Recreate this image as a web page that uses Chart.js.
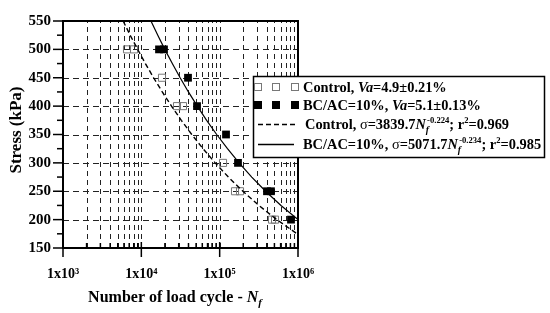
<!DOCTYPE html>
<html><head><meta charset="utf-8">
<script src="https://cdn.jsdelivr.net/npm/chart.js@4/dist/chart.umd.min.js"></script>
<style>html,body{margin:0;padding:0;background:#fff;}canvas{display:block;}</style>
</head><body>
<canvas id="c" width="550" height="313"></canvas>
<script>
// ---- data ----
const xTickValues = [1e3, 1e4, 1e5, 1e6];
const xTickLabels = ['1x10³', '1x10⁴', '1x10⁵', '1x10⁶'];
const yTickValues = [150, 200, 250, 300, 350, 400, 450, 500, 550];

const controlN      = [6560, 8060, 18360, 28530, 34000, 110400, 157000, 181900, 465700, 509000];
const controlStress = [500, 500, 450, 400, 400, 300, 250, 250, 200, 200];
const bcN           = [16820, 19460, 39430, 51400, 120500, 171400, 401900, 451900, 814000];
const bcStress      = [500, 500, 450, 400, 350, 300, 250, 250, 200];

const controlFitN      = [5860, 7200, 8975, 11270, 14340, 18510, 24270, 32380, 44030, 61320, 87640, 129200, 197800, 316800, 535600, 1000000];
const controlFitStress = [550, 525, 500, 475, 450, 425, 400, 375, 350, 325, 300, 275, 250, 225, 200, 173.9];
const bcFitN      = [13270, 16220, 19940, 24860, 31290, 39920, 51800, 68210, 91600, 125800, 177000, 256800, 385800, 606100, 1000000];
const bcFitStress = [550, 525, 500, 475, 450, 425, 400, 375, 350, 325, 300, 275, 250, 225, 200.1];

const legendLabels = ['Control', 'BC/AC=10%'];

const FONT = '"Liberation Serif", "Times New Roman", serif';
const zip = (xs, ys) => xs.map((x, i) => ({x: x, y: ys[i]}));

function richText(ctx, x, y, segs, size) {
  let cx = x;
  for (const s of segs) {
    let sz = size, dy = 0;
    if (s.sub) { sz = size * 0.68; dy = 4; }
    if (s.sup) { sz = size * 0.6; dy = -6; }
    const w = s.normal ? 'normal' : 'bold';
    ctx.font = (s.it ? 'italic ' : '') + w + ' ' + sz + 'px ' + FONT;
    ctx.fillText(s.t, cx, y + dy);
    cx += ctx.measureText(s.t).width + (s.kern || 0);
  }
  return cx - x;
}
function richWidth(ctx, segs, size) {
  let w = 0;
  for (const s of segs) {
    let sz = size;
    if (s.sub) sz = size * 0.68;
    if (s.sup) sz = size * 0.6;
    ctx.font = (s.it ? 'italic ' : '') + (s.normal ? 'normal' : 'bold') + ' ' + sz + 'px ' + FONT;
    w += ctx.measureText(s.t).width + (s.kern || 0);
  }
  return w;
}

const decorPlugin = {
  id: 'decor',
  beforeDatasetsDraw(chart) {
    const {ctx, chartArea: a, scales: {x, y}} = chart;
    ctx.save();
    ctx.strokeStyle = '#222';
    ctx.lineWidth = 1;
    ctx.setLineDash([5, 4]);
    for (let e = 3; e <= 5; e++) {
      for (let m = 1; m <= 9; m++) {
        const v = m * Math.pow(10, e);
        if (v <= 1e3) continue;
        const px = Math.round(x.getPixelForValue(v)) + 0.5;
        ctx.beginPath(); ctx.moveTo(px, a.bottom); ctx.lineTo(px, a.top); ctx.stroke();
      }
    }
    ctx.setLineDash([6, 4]);
    for (const v of yTickValues) {
      if (v <= 150 || v >= 550) continue;
      const py = Math.round(y.getPixelForValue(v)) + 0.5;
      ctx.beginPath(); ctx.moveTo(a.left, py); ctx.lineTo(a.right, py); ctx.stroke();
    }
    ctx.restore();
  },
  afterDatasetsDraw(chart) {
    const {ctx, chartArea: a, scales: {x, y}} = chart;
    ctx.save();
    ctx.setLineDash([]);
    ctx.strokeStyle = '#000';
    ctx.lineWidth = 1.5;
    for (let v = 150; v <= 550; v += 25) {
      const py = y.getPixelForValue(v);
      const len = (v % 50 === 0) ? 10 : 6;
      ctx.beginPath(); ctx.moveTo(a.left - len, py); ctx.lineTo(a.left, py); ctx.stroke();
    }
    for (let e = 3; e <= 6; e++) {
      for (let m = 1; m <= 9; m++) {
        const v = m * Math.pow(10, e);
        if (v > 1e6) break;
        const px = x.getPixelForValue(v);
        ctx.beginPath();
        if (m === 1) { ctx.moveTo(px, a.bottom + 9); ctx.lineTo(px, a.bottom - 6); }
        else { ctx.moveTo(px, a.bottom); ctx.lineTo(px, a.bottom - 5); }
        ctx.stroke();
      }
    }
    ctx.lineWidth = 2;
    ctx.strokeRect(a.left, a.top, a.right - a.left, a.bottom - a.top);
    ctx.restore();
  },
  afterDraw(chart) {
    const {ctx} = chart;
    ctx.save();
    ctx.fillStyle = '#000';
    ctx.textBaseline = 'alphabetic';
    ctx.save();
    ctx.translate(21, 130);
    ctx.rotate(-Math.PI / 2);
    ctx.font = 'bold 17px ' + FONT;
    ctx.textAlign = 'center';
    ctx.fillText('Stress (kPa)', 0, 0);
    ctx.restore();
    const xt = [{t: 'Number of load cycle - '}, {t: 'N', it: true}, {t: 'f', it: true, sub: true}];
    const xw = richWidth(ctx, xt, 16);
    ctx.textAlign = 'left';
    richText(ctx, 175 - xw / 2, 302, xt, 16);

    const L = {x: 253, y: 76, w: 291, h: 81};
    ctx.fillStyle = '#fff';
    ctx.fillRect(L.x, L.y, L.w, L.h);
    ctx.strokeStyle = '#000';
    ctx.lineWidth = 1.5;
    ctx.strokeRect(L.x + 0.5, L.y + 0.5, L.w, L.h);
    const rows = [87, 105, 124, 144];
    const mx = [258, 276, 295];
    ctx.lineWidth = 1;
    ctx.strokeStyle = '#777';
    for (const px of mx) ctx.strokeRect(px - 3.5, rows[0] - 3.5, 7, 7);
    ctx.fillStyle = '#000';
    for (const px of mx) ctx.fillRect(px - 4, rows[1] - 4, 8, 8);
    ctx.strokeStyle = '#000';
    ctx.lineWidth = 1.3;
    ctx.setLineDash([5, 3]);
    ctx.beginPath(); ctx.moveTo(258, rows[2] + 0.5); ctx.lineTo(296, rows[2] + 0.5); ctx.stroke();
    ctx.setLineDash([]);
    ctx.beginPath(); ctx.moveTo(258, rows[3] + 0.5); ctx.lineTo(294, rows[3] + 0.5); ctx.stroke();

    ctx.fillStyle = '#000';
    const tx = 303, fs = 14.4, bl = 5;
    richText(ctx, tx, rows[0] + bl, [{t: legendLabels[0] + ', '}, {t: 'Va', it: true}, {t: '=4.9±0.21%'}], fs);
    richText(ctx, tx, rows[1] + bl, [{t: legendLabels[1] + ', '}, {t: 'Va', it: true}, {t: '=5.1±0.13%'}], fs);
    richText(ctx, tx + 2, rows[2] + bl, [{t: legendLabels[0] + ', '}, {t: 'σ', normal: true}, {t: '=3839.7'}, {t: 'N', it: true}, {t: 'f', it: true, sub: true, kern: -2}, {t: '-0.224', sup: true}, {t: '; r'}, {t: '2', sup: true}, {t: '=0.969'}], fs);
    richText(ctx, tx, rows[3] + bl, [{t: legendLabels[1] + ', '}, {t: 'σ', normal: true}, {t: '=5071.7'}, {t: 'N', it: true}, {t: 'f', it: true, sub: true, kern: -2}, {t: '-0.234', sup: true}, {t: '; r'}, {t: '2', sup: true}, {t: '=0.985'}], fs);
    ctx.restore();
  }
};

new Chart(document.getElementById('c'), {
  type: 'scatter',
  data: {
    datasets: [
      {label: 'Control fit', type: 'line', data: zip(controlFitN, controlFitStress), borderColor: '#000', borderWidth: 1.4, borderDash: [5, 3], pointRadius: 0, fill: false, tension: 0},
      {label: 'BC/AC fit', type: 'line', data: zip(bcFitN, bcFitStress), borderColor: '#000', borderWidth: 1.2, pointRadius: 0, fill: false, tension: 0},
      {label: 'Control', data: zip(controlN, controlStress), pointStyle: 'rect', pointRadius: 5, borderColor: '#777', borderWidth: 1, backgroundColor: 'rgba(255,255,255,0)'},
      {label: 'BC/AC=10%', data: zip(bcN, bcStress), pointStyle: 'rect', pointRadius: 5.5, borderColor: '#000', borderWidth: 0, backgroundColor: '#000'}
    ]
  },
  options: {
    responsive: false,
    devicePixelRatio: 1,
    animation: false,
    layout: {padding: {left: 0, top: 13, right: 252, bottom: 0}},
    plugins: {legend: {display: false}, tooltip: {enabled: false}},
    scales: {
      x: {
        type: 'logarithmic', min: 1e3, max: 1e6,
        afterBuildTicks: s => { s.ticks = xTickValues.map(v => ({value: v})); },
        afterFit: s => { s.height = 65; },
        grid: {display: false, drawTicks: false},
        border: {display: false},
        ticks: {
          autoSkip: false, maxRotation: 0, padding: 18, color: '#000',
          font: {family: FONT, size: 14, weight: 'bold'},
          callback: (v) => { const i = xTickValues.indexOf(v); return i >= 0 ? xTickLabels[i] : ''; }
        }
      },
      y: {
        type: 'linear', min: 150, max: 550,
        afterBuildTicks: s => { s.ticks = yTickValues.map(v => ({value: v})); },
        afterFit: s => { s.width = 63; },
        grid: {display: false, drawTicks: false},
        border: {display: false},
        ticks: {
          padding: 12, color: '#000',
          font: {family: FONT, size: 15, weight: 'bold'}
        }
      }
    }
  },
  plugins: [decorPlugin]
});
</script>
</body></html>
